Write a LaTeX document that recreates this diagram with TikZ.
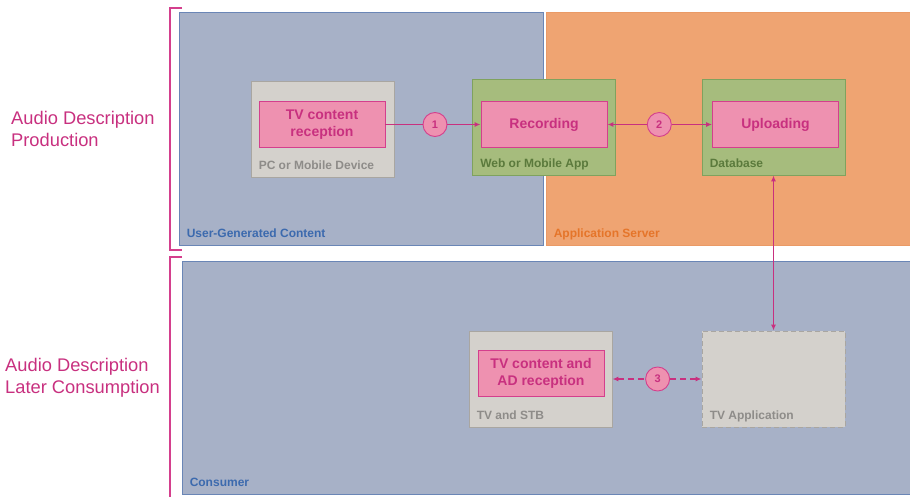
\documentclass[tikz,border=0pt]{standalone}
\usepackage{fontspec}
\setmainfont{Liberation Sans}
\usetikzlibrary{arrows.meta, positioning, calc}
\definecolor{adpink}{HTML}{EE91B0}
\definecolor{adpinkline}{HTML}{D43F8D}
\definecolor{adpinktext}{HTML}{C8307F}
\definecolor{ugcblue}{HTML}{A7B1C7}
\definecolor{ugcblueline}{HTML}{6A86B6}
\definecolor{ugcbluetext}{HTML}{3C6AAE}
\definecolor{srvorange}{HTML}{EFA472}
\definecolor{srvorangeline}{HTML}{EA9A66}
\definecolor{srvorangetext}{HTML}{E5752A}
\definecolor{appgreen}{HTML}{A6BC7D}
\definecolor{appgreenline}{HTML}{7FA25E}
\definecolor{appgreentext}{HTML}{5B7A3C}
\definecolor{devgrey}{HTML}{D4D1CC}
\definecolor{devgreyline}{HTML}{A9A6A1}
\definecolor{devgreytext}{HTML}{8E8C89}
\newcommand{\boxlabel}[4]
{
	\node[anchor=base west, text=#2, font=\fontsize{12}{14}\selectfont\bfseries] at ($ (#1.south west)+(8,-8) $) (#3){#4}
}

\begin{document}
\begin{tikzpicture}[x=1pt, y=-1pt,
	every node/.append style={inner sep=0pt},
	zone/.style={shape=rectangle, line width=0.9pt, minimum height=233},
	device/.style={shape=rectangle, draw=devgreyline, fill=devgrey, line width=0.9pt,
		minimum width=143, minimum height=96},
	app/.style={shape=rectangle, draw=appgreenline, fill=appgreen, line width=0.9pt,
		minimum width=143, minimum height=96},
	task/.style={shape=rectangle, draw=adpinkline, fill=adpink, line width=0.9pt,
		minimum width=126, minimum height=46, align=center, text=adpinktext,
		font=\fontsize{14}{17}\selectfont\bfseries},
	stepnum/.style={shape=circle, draw=adpinkline, fill=adpink, line width=0.9pt,
		minimum size=24, text=adpinktext, font=\fontsize{11}{13}\selectfont\bfseries},
	link/.style={draw=adpinktext, line width=1.2pt},
	tip/.tip={Latex[length=6pt, width=5pt]},
	bracket/.style={draw=adpinkline, line width=1.1pt},
	sidetext/.style={align=left, text=adpinktext, font=\fontsize{18.3}{21.7}\selectfont}]

	\useasboundingbox (0,0) rectangle (910,497);

	\node[zone, draw=ugcblueline, fill=ugcblue, minimum width=364] at (361,128.5) (ugc){};
	\node[zone, draw=srvorangeline, fill=srvorange, minimum width=366] at (729,128.5) (srv){};
	\node[zone, draw=ugcblueline, fill=ugcblue, minimum width=730] at (547,377.5) (cons){};

	\node[device] at (322.5,129.5) (pc){};
	\node[task] at (322,124.5) (tvrec){TV content\\reception};
	\node[app] at (544,127) (web){};
	\node[task] at (544,124.5) (rec){Recording};
	\node[app] at (773.5,127) (db){};
	\node[task] at (775.5,124.5) (upl){Uploading};
	\node[device] at (540.5,379) (stb){};
	\node[task] at (541,373.7) (tvad){TV content and\\AD reception};
	\node[device, dash pattern=on 5pt off 3pt] at (773.5,379) (tvapp){};

	\node[stepnum] at (435,124.5) (s1){1};
	\node[stepnum] at (659.3,124.5) (s2){2};
	\node[stepnum] at (657.6,379) (s3){3};

	\boxlabel{ugc}{ugcbluetext}{ugclbl}{User-Generated Content};
	\boxlabel{srv}{srvorangetext}{srvlbl}{Application Server};
	\boxlabel{cons}{ugcbluetext}{conslbl}{Consumer};
	\boxlabel{pc}{devgreytext}{pclbl}{PC or Mobile Device};
	\boxlabel{web}{appgreentext}{weblbl}{Web or Mobile App};
	\boxlabel{db}{appgreentext}{dblbl}{Database};
	\boxlabel{stb}{devgreytext}{stblbl}{TV and STB};
	\boxlabel{tvapp}{devgreytext}{tvapplbl}{TV Application};

	\draw[link] (tvrec.east) -- (s1.west);
	\draw[link, -tip] (s1.east) -- (rec.west);
	\draw[link, tip-] (rec.east) -- (s2.west);
	\draw[link, -tip] (s2.east) -- (upl.west);
	\draw[link, tip-tip] (db.south) -- (tvapp.north);
	\draw[link, tip-, dash pattern=on 6pt off 4pt] (stb.east) -- (s3.west);
	\draw[link, -tip, dash pattern=on 6pt off 4pt] (s3.east) -- (tvapp.west);

	\draw[bracket] (182,8) -- (170,8) -- (170,250) -- (182,250);
	\draw[bracket] (182,257) -- (170,257) -- (170,500);

	\node[sidetext, anchor=base west] at (11,146.4) (prod){Audio Description\\Production};
	\node[sidetext, anchor=base west] at (5,393.4) (later){Audio Description\\Later Consumption};
\end{tikzpicture}
\end{document}
